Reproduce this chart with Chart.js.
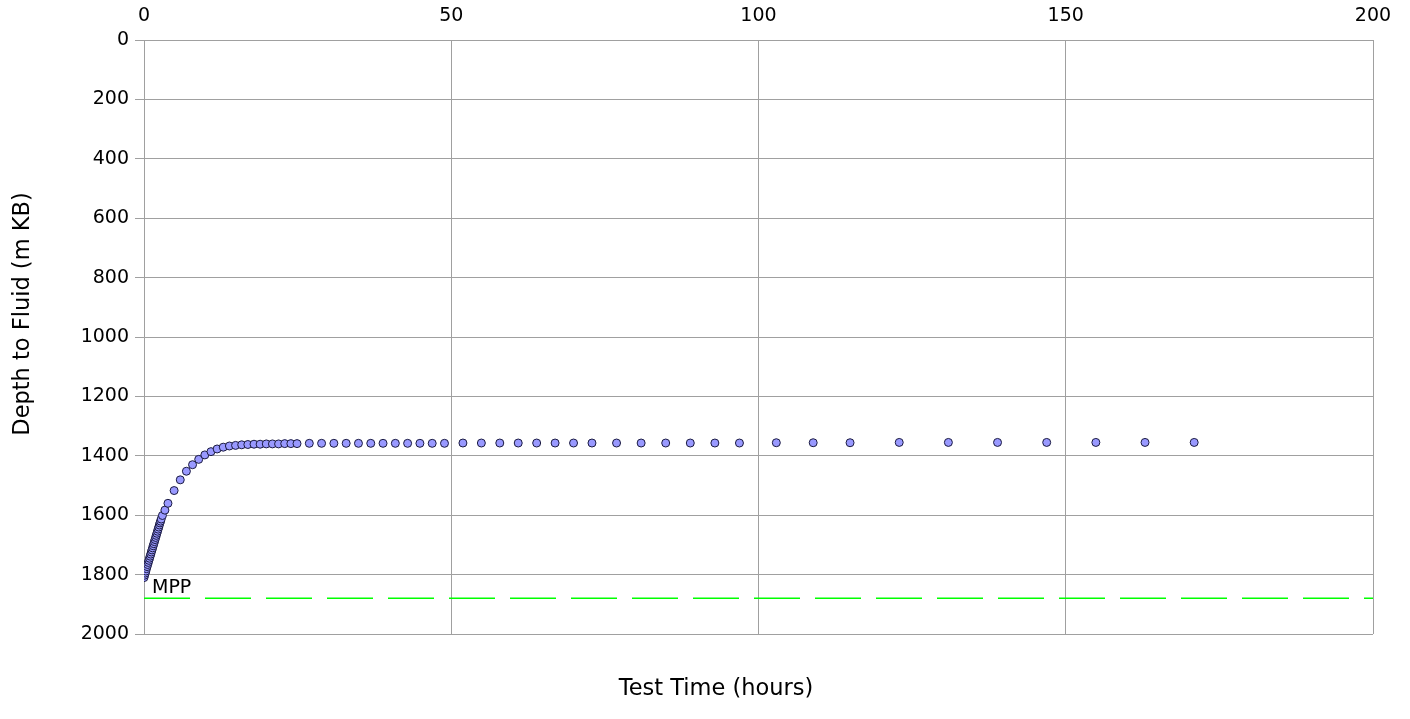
<!DOCTYPE html>
<html>
<head>
<meta charset="utf-8">
<title>Depth to Fluid</title>
<script src="https://cdn.jsdelivr.net/npm/chart.js@4.4.0/dist/chart.umd.min.js"></script>
<style>
    body { margin: 0; background: #ffffff; }
    #chartBox { width: 1410px; height: 719px; }
</style>
</head>
<body>
<div id="chartBox"><canvas id="fluidChart" width="1410" height="719"></canvas></div>
<script>
// --- Data ---
const testHours = [
    0.0, 0.1, 0.2, 0.3, 0.4, 0.5, 0.6, 0.7, 0.8, 0.9,
    1.0, 1.1, 1.2, 1.3, 1.4, 1.5, 1.6, 1.7, 1.8, 1.9,
    2.0, 2.1, 2.2, 2.3, 2.4, 2.5, 2.6, 2.7, 2.8, 3.0,
    3.4, 3.9, 4.9, 5.9, 6.9, 7.9, 8.9, 9.9, 10.9, 11.9,
    12.9, 13.9, 14.9, 15.9, 16.9, 17.9, 18.9, 19.9, 20.9, 21.9,
    22.9, 23.9, 24.9, 26.9, 28.9, 30.9, 32.9, 34.9, 36.9, 38.9,
    40.9, 42.9, 44.9, 46.9, 48.9, 51.9, 54.9, 57.9, 60.9, 63.9,
    66.9, 69.9, 72.9, 76.9, 80.9, 84.9, 88.9, 92.9, 96.9, 102.9,
    108.9, 114.9, 122.9, 130.9, 138.9, 146.9, 154.9, 162.9, 170.9
];
const fluidDepth = [
    1810, 1802, 1795, 1788, 1780, 1773, 1766, 1759, 1752, 1745,
    1738, 1731, 1724, 1717, 1710, 1703, 1696, 1689, 1682, 1675,
    1668, 1661, 1654, 1647, 1640, 1633, 1626, 1620, 1613, 1601,
    1583, 1560, 1517, 1481, 1452, 1430, 1412, 1397, 1386, 1377,
    1371, 1367, 1365, 1363, 1362, 1361, 1361, 1360, 1360, 1360,
    1359, 1359, 1359, 1358, 1358, 1358, 1358, 1358, 1358, 1358,
    1358, 1358, 1358, 1358, 1358, 1357, 1357, 1357, 1357, 1357,
    1357, 1357, 1357, 1357, 1357, 1357, 1357, 1357, 1357, 1356,
    1356, 1356, 1355, 1355, 1355, 1355, 1355, 1355, 1355
];

// MPP reference line
const mppLabel = 'MPP';
const mppHours = [0, 200];
const mppDepth = [1880, 1880];

// axis ticks and titles
const hourTicks = [0, 50, 100, 150, 200];
const depthTicks = [0, 200, 400, 600, 800, 1000, 1200, 1400, 1600, 1800, 2000];
const xTitle = 'Test Time (hours)';
const yTitle = 'Depth to Fluid (m KB)';

const fontFamily = '"DejaVu Sans", Verdana, sans-serif';
const gridColor = '#a0a0a0';

// --- Plugins: MPP text and axis titles ---
const mppTextPlugin = {
    id: 'mppText',
    afterDatasetsDraw(chart) {
        const ctx = chart.ctx;
        const x = chart.scales.x.getPixelForValue(mppHours[0]);
        const y = chart.scales.y.getPixelForValue(mppDepth[0]);
        ctx.save();
        ctx.font = '19px ' + fontFamily;
        ctx.fillStyle = '#000000';
        ctx.textAlign = 'left';
        ctx.textBaseline = 'alphabetic';
        ctx.fillText(mppLabel, x + 8, y - 5);
        ctx.restore();
    }
};

const axisTitlesPlugin = {
    id: 'axisTitles',
    afterDraw(chart) {
        const ctx = chart.ctx;
        ctx.save();
        ctx.font = '22.5px ' + fontFamily;
        ctx.fillStyle = '#000000';
        ctx.textAlign = 'center';
        ctx.textBaseline = 'middle';
        // titulo inferior
        ctx.fillText(xTitle, chart.width / 2 + 11, chart.height - 30);
        // titulo vertical, un poco por encima del centro del area
        ctx.translate(23, (chart.chartArea.top + chart.chartArea.bottom) / 2 - 23);
        ctx.rotate(-Math.PI / 2);
        ctx.fillText(yTitle, 0, 0);
        ctx.restore();
    }
};

function dibujarGrafico() {
    const ctx = document.getElementById('fluidChart').getContext('2d');
    const puntos = testHours.map((h, i) => ({x: h, y: fluidDepth[i]}));
    const lineaMpp = mppHours.map((h, i) => ({x: h, y: mppDepth[i]}));

    new Chart(ctx, {
        type: 'scatter',
        data: {
            datasets: [{
                data: puntos,
                backgroundColor: '#9999ff',
                borderColor: '#1a1a40',
                borderWidth: 1,
                pointRadius: 4,
                pointHoverRadius: 4
            }, {
                type: 'line',
                data: lineaMpp,
                showLine: true,
                borderColor: '#00ff00',
                borderWidth: 1.5,
                borderDash: [46, 15],
                pointRadius: 0,
                fill: false
            }]
        },
        options: {
            responsive: false,
            animation: false,
            layout: { padding: { left: 0, right: 37, top: 4, bottom: 85 } },
            plugins: {
                legend: { display: false },
                tooltip: { enabled: false },
                title: { display: false }
            },
            scales: {
                x: {
                    type: 'linear',
                    position: 'top',
                    min: 0,
                    max: 200,
                    afterBuildTicks: (axis) => { axis.ticks = hourTicks.map(v => ({value: v})); },
                    afterFit: (scale) => { scale.height = 36; },
                    grid: { color: gridColor, lineWidth: 1, drawTicks: false },
                    border: { color: gridColor },
                    ticks: {
                        color: '#000000', padding: 13,
                        font: { family: fontFamily, size: 19 },
                        callback: (v) => String(v)
                    }
                },
                y: {
                    type: 'linear',
                    reverse: true,
                    min: 0,
                    max: 2000,
                    afterBuildTicks: (axis) => { axis.ticks = depthTicks.map(v => ({value: v})); },
                    afterFit: (scale) => { scale.width = 144; },
                    grid: { color: gridColor, lineWidth: 1, tickLength: 9 },
                    border: { color: gridColor },
                    ticks: {
                        color: '#000000', padding: 6,
                        font: { family: fontFamily, size: 19 },
                        callback: (v) => String(v)
                    }
                }
            }
        },
        plugins: [mppTextPlugin, axisTitlesPlugin]
    });
}

dibujarGrafico();
</script>
</body>
</html>
